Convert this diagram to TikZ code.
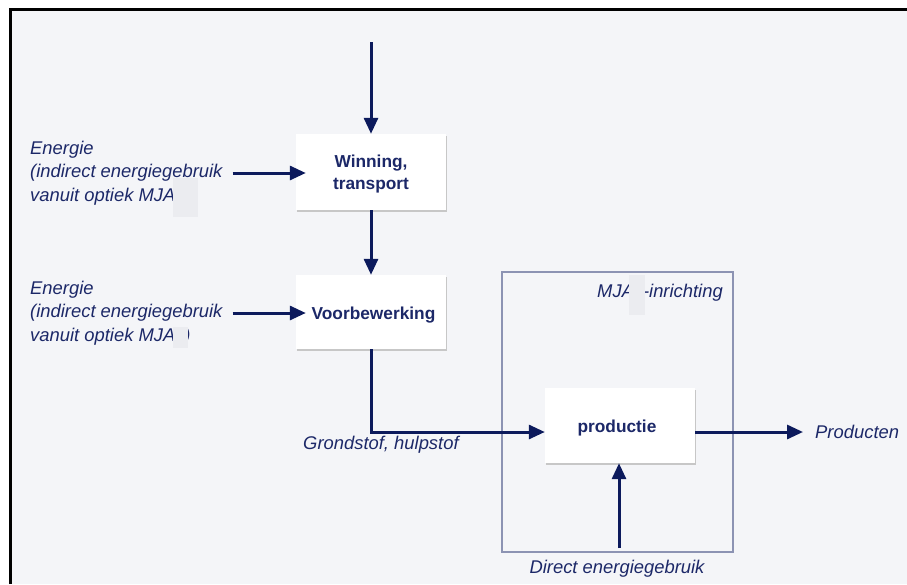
\documentclass[tikz,border=0pt]{standalone}
\usepackage{fontspec}
\setmainfont{Liberation Sans}
\usetikzlibrary{arrows.meta,shadows}
\definecolor{navy}{HTML}{0C1A5C}
\definecolor{inktext}{HTML}{1C2868}
\definecolor{panel}{HTML}{F4F5F8}
\definecolor{framec}{HTML}{8C93B3}
\definecolor{patch}{HTML}{EBECF0}
\tikzset{
  flow/.style={draw=navy, line width=3pt, -{Triangle[length=16pt,width=14pt]}},
  procbox/.style={draw=none, fill=white, minimum width=150pt, inner sep=0pt,
    drop shadow={shadow xshift=1.2pt, shadow yshift=-1.5pt, fill=black!22, opacity=1}},
  proctext/.style={align=center, inner sep=0pt, text=inktext,
    font=\fontsize{17.3}{22}\selectfont\bfseries},
  lbl/.style={inner sep=0pt, text=inktext, align=left,
    font=\fontsize{18.4}{23.5}\selectfont\itshape},
  patchbox/.style={fill=patch, draw=none}
}
\begin{document}
\begin{tikzpicture}[x=1pt,y=-1pt]
  \useasboundingbox (0,0) rectangle (907,584);
  % panel with its top and left rule
  \fill[white] (0,0) rectangle (907,584);
  \fill[panel] (10.5,9.5) rectangle (907,584);
  \draw[black, line width=2.5pt] (10.5,584) -- (10.5,9.5) -- (907,9.5);

  % installation boundary
  \node[draw=framec, line width=1.2pt, minimum width=231pt, minimum height=280pt,
        inner sep=0pt] (mja) at (617.5,412) {};
  \node[lbl, anchor=east] (mjalbl) at (723,293) {MJA\hspace{9pt}-inrichting};
  \fill[patchbox] (629,275) rectangle (645,315);

  % process boxes and their captions
  \node[procbox, minimum height=76pt] (win) at (371,172) {};
  \node[proctext] (wintxt) at (371,174) {Winning,\\transport};
  \node[procbox, minimum height=74pt] (voor) at (371,312) {};
  \node[proctext] (voortxt) at (373.5,315) {Voorbewerking};
  \node[procbox, minimum height=75pt] (prod) at (620,425.5) {};
  \node[proctext] (prodtxt) at (617,428) {productie};

  % energy inputs
  \node[lbl, anchor=west] (e1) at (30,173)
    {Energie\\(indirect energiegebruik\\vanuit optiek MJA};
  \fill[patchbox] (173,178) rectangle (198,217);
  \node[lbl, anchor=west] (e2) at (30,313)
    {Energie\\(indirect energiegebruik\\vanuit optiek MJA\hspace{9pt})};
  \fill[patchbox] (173,327) rectangle (188,348);

  % other labels
  \node[lbl, anchor=west] (grond) at (303,445) {Grondstof, hulpstof};
  \node[lbl, anchor=west, inner xsep=12pt] (out) at (803,432) {Producten};
  \node[lbl] (direct) at (617,569) {Direct energiegebruik};

  \coordinate (feed) at (371,42);
  \coordinate (dirstart) at (619,548);

  % flows
  \draw[flow] (feed) -- (win.north);
  \draw[flow] (win.south) -- (voor.north);
  \draw[flow] ([xshift=10pt]e1.east) -- ([xshift=10pt]e1.east -| win.west);
  \draw[flow] ([xshift=10pt]e2.east) -- ([xshift=10pt]e2.east -| voor.west);
  \draw[flow] (voor.south) |- ([yshift=-6.5pt]prod.west);
  \draw[flow] ([yshift=-6.5pt]prod.east) -- (out.west);
  \draw[flow] (dirstart) -- (dirstart |- prod.south);
\end{tikzpicture}
\end{document}
